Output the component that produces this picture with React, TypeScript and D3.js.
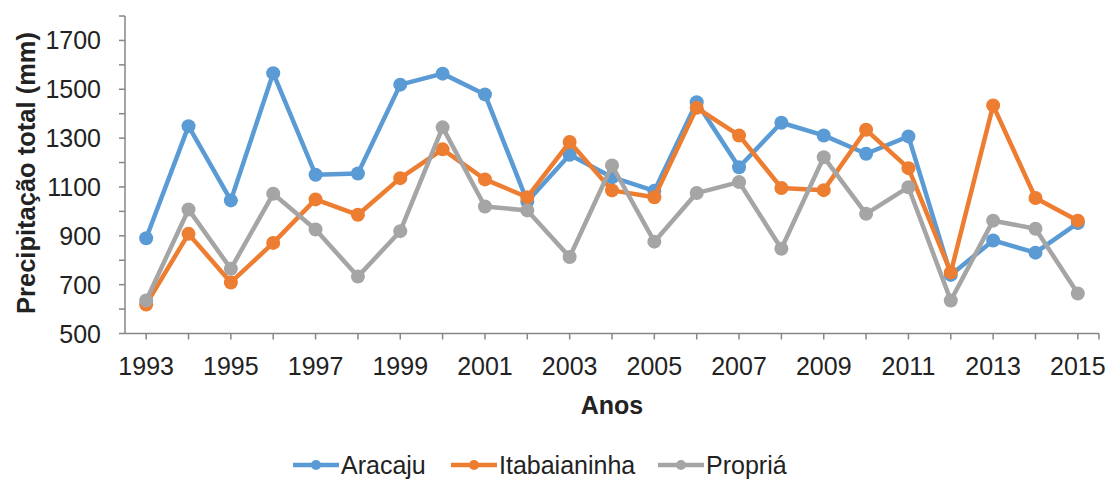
import { useEffect, useRef } from 'react';
import { select, scaleBand, scaleLinear, line, range } from 'd3';

const years = [
  1993, 1994, 1995, 1996, 1997, 1998, 1999, 2000, 2001, 2002, 2003, 2004,
  2005, 2006, 2007, 2008, 2009, 2010, 2011, 2012, 2013, 2014, 2015,
];

const aracaju = [
  890, 1349, 1045, 1566, 1150, 1155, 1519, 1564, 1479, 1040, 1232, 1140,
  1084, 1447, 1181, 1363, 1311, 1236, 1307, 740, 881, 831, 952,
];
const itabaianinha = [
  619, 908, 709, 871, 1049, 986, 1136, 1254, 1131, 1058, 1284, 1086,
  1058, 1424, 1311, 1096, 1087, 1334, 1177, 750, 1434, 1055, 962,
];
const propria = [
  635, 1008, 765, 1072, 926, 733, 919, 1344, 1020, 1004, 813, 1188,
  876, 1075, 1120, 847, 1222, 990, 1099, 635, 962, 929, 664,
];

const seriesNames = ['Aracaju', 'Itabaianinha', 'Propriá'];
const seriesColors = ['#5B9BD5', '#ED7D31', '#A5A5A5'];
const yTickLabels = [500, 700, 900, 1100, 1300, 1500, 1700];

const FONT = '"Liberation Sans", Arial, sans-serif';

const App = () => {
  const ref = useRef<SVGSVGElement>(null);

  useEffect(() => {
    const width = 1110;
    const height = 481;
    const svg = select(ref.current);
    svg.selectAll('*').remove();
    svg.attr('width', width).attr('height', height);

    const left = 125;
    const right = 1099;
    const top = 16;
    const bottom = 333.5;

    const x = scaleBand<number>().domain(years).range([left, right]).padding(0);
    const cx = (yr: number) => (x(yr) as number) + x.bandwidth() / 2;
    const y = scaleLinear().domain([500, 1800]).range([bottom, top]);

    const axisColor = '#868686';

    // y axis, a tick every 100 and a label every 200
    svg.append('line')
      .attr('x1', left).attr('x2', left)
      .attr('y1', top).attr('y2', bottom)
      .attr('stroke', axisColor).attr('stroke-width', 1.5);
    svg.selectAll('.ytick')
      .data(range(500, 1801, 100))
      .enter()
      .append('line')
      .attr('x1', left - 6).attr('x2', left)
      .attr('y1', (d) => y(d)).attr('y2', (d) => y(d))
      .attr('stroke', axisColor).attr('stroke-width', 1.5);
    svg.selectAll('.ylabel')
      .data(yTickLabels)
      .enter()
      .append('text')
      .attr('x', 101)
      .attr('y', (d) => y(d) + 9)
      .attr('text-anchor', 'end')
      .attr('font-family', FONT)
      .attr('font-size', 25)
      .attr('fill', '#222')
      .text((d) => d);

    // x axis
    svg.append('line')
      .attr('x1', left).attr('x2', right)
      .attr('y1', bottom).attr('y2', bottom)
      .attr('stroke', axisColor).attr('stroke-width', 1.5);
    svg.selectAll('.xtick')
      .data([...years.map(cx), right])
      .enter()
      .append('line')
      .attr('x1', (d) => d).attr('x2', (d) => d)
      .attr('y1', bottom).attr('y2', bottom + 6)
      .attr('stroke', axisColor).attr('stroke-width', 1.5);
    svg.selectAll('.xlabel')
      .data(years.filter((d, i) => i % 2 === 0))
      .enter()
      .append('text')
      .attr('x', (d) => cx(d))
      .attr('y', 375)
      .attr('text-anchor', 'middle')
      .attr('font-family', FONT)
      .attr('font-size', 25)
      .attr('fill', '#222')
      .text((d) => d);

    // axis titles
    svg.append('text')
      .attr('x', (left + right) / 2)
      .attr('y', 414)
      .attr('text-anchor', 'middle')
      .attr('font-family', FONT)
      .attr('font-size', 25)
      .attr('font-weight', 'bold')
      .attr('fill', '#222')
      .text('Anos');
    svg.append('text')
      .attr('transform', 'translate(35, 173) rotate(-90)')
      .attr('text-anchor', 'middle')
      .attr('font-family', FONT)
      .attr('font-size', 25.5)
      .attr('font-weight', 'bold')
      .attr('fill', '#222')
      .text('Precipitação total (mm)');

    // series
    const allSeries = [aracaju, itabaianinha, propria];
    const lineGen = line<number>()
      .x((d, i) => cx(years[i]))
      .y((d) => y(d));

    allSeries.forEach((vals, s) => {
      const g = svg.append('g');
      g.append('path')
        .attr('d', lineGen(vals))
        .attr('fill', 'none')
        .attr('stroke', seriesColors[s])
        .attr('stroke-width', 4.5)
        .attr('stroke-linejoin', 'round');
      g.selectAll('circle')
        .data(vals)
        .enter()
        .append('circle')
        .attr('cx', (d, i) => cx(years[i]))
        .attr('cy', (d) => y(d))
        .attr('r', 7)
        .attr('fill', seriesColors[s]);
    });

    // legend
    const legendX = [293, 451, 658];
    seriesNames.forEach((name, s) => {
      const g = svg.append('g').attr('transform', `translate(${legendX[s]}, 465)`);
      g.append('line')
        .attr('x1', 0).attr('x2', 46)
        .attr('y1', 0).attr('y2', 0)
        .attr('stroke', seriesColors[s])
        .attr('stroke-width', 4.5);
      g.append('circle')
        .attr('cx', 23).attr('cy', 0).attr('r', 5)
        .attr('fill', seriesColors[s]);
      g.append('text')
        .attr('x', 48)
        .attr('y', 9)
        .attr('font-family', FONT)
        .attr('font-size', 25)
        .attr('fill', '#222')
        .text(name);
    });
  }, []);

  return <svg ref={ref} style={{ position: 'absolute', left: 0, top: 0 }}></svg>;
};

export default App;
